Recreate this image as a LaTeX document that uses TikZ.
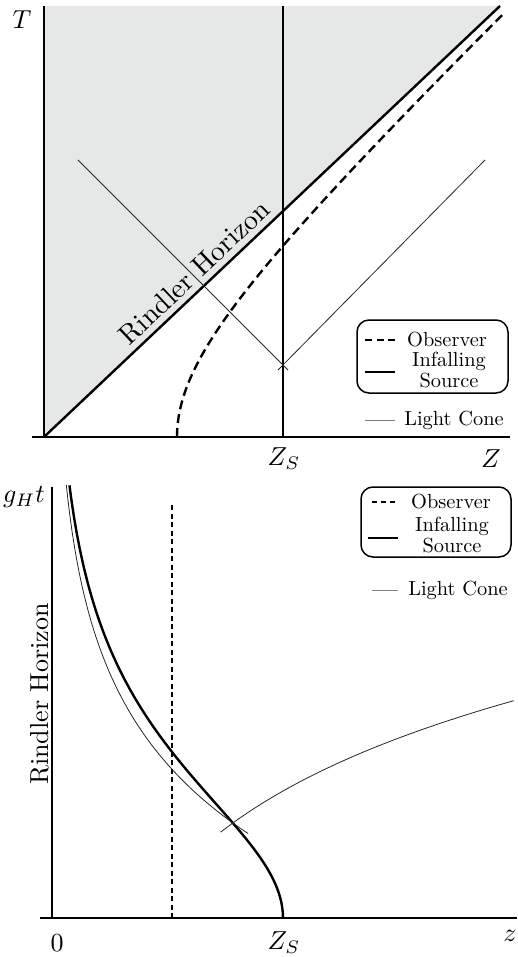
\documentclass[tikz,border=0pt]{standalone}
\usetikzlibrary{calc}
\definecolor{shadegray}{RGB}{230,231,231}
\begin{document}
\begin{tikzpicture}[x=1pt,y=-1pt,
  axis/.style={line width=2.4pt},
  thickln/.style={line width=2.4pt},
  coneln/.style={line width=0.8pt, black!85},
  obsdash/.style={line width=2.4pt, dash pattern=on 9pt off 5pt},
  lbl/.style={font=\fontsize{10}{12}\selectfont, inner sep=0pt, scale=2.6},
  legtxt/.style={font=\fontsize{10}{10.3}\selectfont, inner sep=0pt, align=center, scale=2.04},
  legbox/.style={draw, line width=1.5pt, rounded corners=12pt, inner sep=0pt},
  rhtxt/.style={font=\fontsize{10}{12}\selectfont, inner sep=0pt, anchor=base},
]
\useasboundingbox (0,0) rectangle (517,957);

% ---------------- top panel ----------------
\coordinate (O1) at (44,437);
\coordinate (T1) at (44,6);
\coordinate (H1) at (500,6);
\coordinate (ZL) at (32,437);
\coordinate (ZR) at (510,437);
\coordinate (S1b) at (283,437);
\coordinate (S1t) at (283,6);
\fill[shadegray] (O1) -- (T1) -- (H1) -- cycle;
\draw[axis] (T1) -- (O1);
\draw[axis] (ZL) -- (ZR);
\draw[thickln] (O1) -- (H1);
\draw[thickln] (S1b) -- (S1t);
\draw[obsdash] plot[domain=0:1.91, samples=100] ({44+133*cosh(\x)},{437-128*sinh(\x)});
% light cone
\coordinate (V1) at (283,365);
\coordinate (L1) at (78,160);
\coordinate (R1) at (485,160);
\coordinate (L1e) at (288,370);
\coordinate (R1e) at (278,370);
\draw[coneln] (L1) -- (L1e);
\draw[coneln] (R1) -- (R1e);
% labels
\node[lbl] (Tlab) at (22,20) {$T$};
\node[lbl] (ZSlab) at (284,459) {$Z_S$};
\node[lbl] (Zlab) at (491,459) {$Z$};
\node[rhtxt, rotate=43.4, scale=2.8] (RH1) at (201,279) {Rindler Horizon};
% legend
\node[legbox, minimum width=151pt, minimum height=73pt] (leg1) at (432.5,356.5) {};
\node[legtxt] (obs1) at (447,340) {Observer};
\coordinate (o1a) at (365,340); \coordinate (o1b) at (395,340);
\draw[line width=2.4pt, dash pattern=on 7pt off 4.5pt] (o1a) -- (o1b);
\node[legtxt] (inf1) at (449,370) {Infalling\\Source};
\coordinate (i1a) at (365,372); \coordinate (i1b) at (395,372);
\draw[thickln] (i1a) -- (i1b);
\node[legtxt] (lc1) at (454,420) {Light Cone};
\coordinate (c1a) at (365,420); \coordinate (c1b) at (395,420);
\draw[line width=0.8pt, gray] (c1a) -- (c1b);

% ---------------- bottom panel ----------------
\coordinate (O2) at (52,918);
\coordinate (T2) at (52,487);
\coordinate (zL) at (40,918);
\coordinate (zR) at (517,918);
\coordinate (ob2b) at (172,918);
\coordinate (ob2t) at (172,503);
\draw[axis] (T2) -- (O2);
\draw[axis] (zL) -- (zR);
\draw[line width=2.4pt, dash pattern=on 5pt off 3.5pt] (ob2b) -- (ob2t);
\draw[thickln] plot[domain=0:3.33, samples=120] ({53+230/cosh(\x)},{918-130*\x});
\draw[coneln] plot[domain=0.65:3.33, samples=100] ({53+373.5*exp(-\x)},{918-130*\x});
\draw[coneln] plot[domain=0.66:1.672, samples=80] ({53+86.6*exp(\x)},{918-130*\x});
% labels
\node[lbl] (gt) at (24,497) {$g_H t$};
\node[lbl] (zero) at (57,943) {$0$};
\node[lbl] (ZS2) at (284,943) {$Z_S$};
\node[lbl] (zlab) at (510,936) {$z$};
\node[rhtxt, rotate=90, scale=2.6] (RH2) at (48,694) {Rindler Horizon};
% legend
\node[legbox, minimum width=150pt, minimum height=70pt] (leg2) at (436,522) {};
\node[legtxt] (obs2) at (451,502) {Observer};
\coordinate (o2a) at (372,502); \coordinate (o2b) at (396,502);
\draw[line width=2.4pt, dash pattern=on 5pt off 4pt] (o2a) -- (o2b);
\node[legtxt] (inf2) at (452,535) {Infalling\\Source};
\coordinate (i2a) at (368,538); \coordinate (i2b) at (398,538);
\draw[thickln] (i2a) -- (i2b);
\node[legtxt] (lc2) at (458,590) {Light Cone};
\coordinate (c2a) at (372,590); \coordinate (c2b) at (398,590);
\draw[line width=0.8pt, gray] (c2a) -- (c2b);
\end{tikzpicture}
\end{document}
